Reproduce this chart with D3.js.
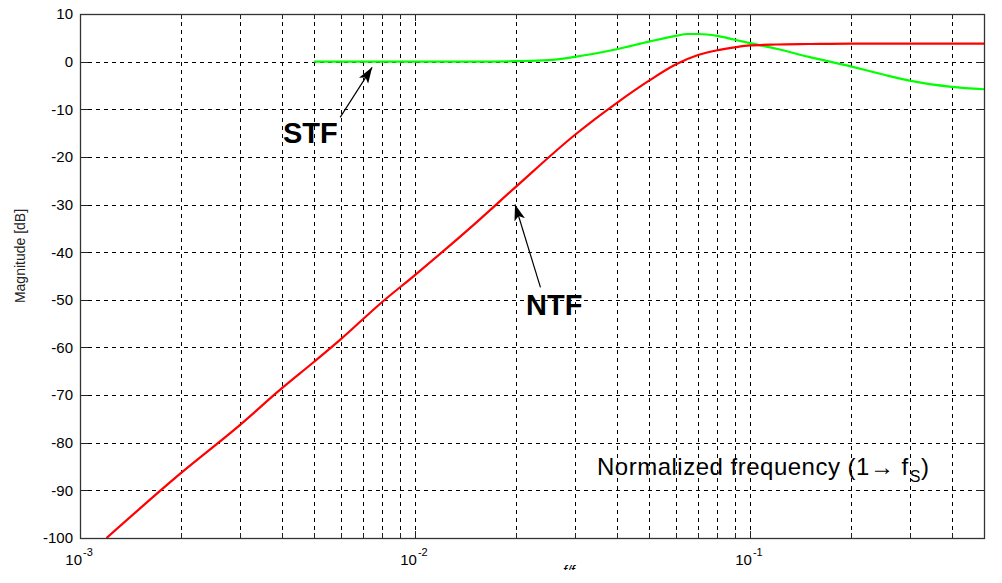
<!DOCTYPE html>
<html>
<head>
<meta charset="utf-8">
<script src="https://cdnjs.cloudflare.com/ajax/libs/d3/7.8.5/d3.min.js"></script>
<style>
  body { margin: 0; background: #fff; }
  svg { display: block; font-family: "Liberation Sans", Arial, sans-serif; }
</style>
</head>
<body>
<div id="chart"></div>
<script>
// NTF (red)
var ntfFreq = [0.0012, 0.002, 0.003, 0.004, 0.005, 0.006, 0.008, 0.01, 0.015, 0.02, 0.03, 0.04, 0.05, 0.06, 0.07, 0.08, 0.09, 0.1, 0.12, 0.15, 0.2, 0.3, 0.5];
var ntfDb   = [-100, -86.4, -76.3, -68.6, -63.0, -58.3, -50.4, -44.8, -34.2, -26.3, -15.4, -8.7, -4.0, -0.6, 1.4, 2.4, 3.0, 3.4, 3.6, 3.7, 3.8, 3.8, 3.8];

// STF (green)
var stfFreq = [0.005, 0.01, 0.015, 0.02, 0.025, 0.03, 0.04, 0.05, 0.06, 0.065, 0.07, 0.08, 0.09, 0.1, 0.12, 0.15, 0.2, 0.25, 0.3, 0.4, 0.5];
var stfDb   = [0, 0, 0, 0.1, 0.3, 1.0, 2.6, 4.2, 5.4, 5.8, 5.8, 5.4, 4.6, 3.9, 2.7, 1.0, -1.0, -2.7, -4.0, -5.3, -5.8];

var yTicks = [10, 0, -10, -20, -30, -40, -50, -60, -70, -80, -90, -100];
var xMajor = [0.001, 0.01, 0.1];
var xMajorExp = ["-3", "-2", "-1"];
var xMinor = [0.002, 0.003, 0.004, 0.005, 0.006, 0.007, 0.008, 0.009,
              0.02, 0.03, 0.04, 0.05, 0.06, 0.07, 0.08, 0.09,
              0.2, 0.3, 0.4];

// annotations: label position and arrow tip in data units
var notes = [
  { label: "STF", tx: 283, ty: 143, from: [0.00598, -11.7], to: [0.00745, -1.2] },
  { label: "NTF", tx: 526, ty: 315, from: [0.0237, -47.4], to: [0.0199, -30.0] }
];

var W = 1002, H = 583;
var margin = { top: 14, right: 18, bottom: 45, left: 80 },
    width = W - margin.left - margin.right,
    height = H - margin.top - margin.bottom;

var x = d3.scaleLog().domain([0.001, 0.5]).range([0, width]);
var y = d3.scaleLinear().domain([-100, 10]).range([height, 0]);

var svg = d3.select("#chart").append("svg")
    .attr("width", W)
    .attr("height", H);

var defs = svg.append("defs");
defs.append("clipPath").attr("id", "plotclip")
    .append("rect").attr("width", width).attr("height", height);
defs.append("clipPath").attr("id", "cutclip")
    .append("rect").attr("x", 0).attr("y", 0).attr("width", W).attr("height", 570);
defs.append("marker")
    .attr("id", "head")
    .attr("viewBox", "0 0 16 11")
    .attr("refX", 16).attr("refY", 5.5)
    .attr("markerWidth", 16).attr("markerHeight", 11)
    .attr("markerUnits", "userSpaceOnUse")
    .attr("orient", "auto")
    .append("path").attr("d", "M0,0L16,5.5L0,11L4,5.5Z").attr("fill", "#000");

var g = svg.append("g")
    .attr("transform", "translate(" + margin.left + "," + margin.top + ")");

// grid
var dash = "4,4";
g.selectAll(".vgrid")
    .data(xMajor.concat(xMinor))
    .enter().append("line")
    .attr("x1", function(d) { return Math.round(x(d)) + 0.5; })
    .attr("x2", function(d) { return Math.round(x(d)) + 0.5; })
    .attr("y1", 0).attr("y2", height)
    .attr("stroke", "#000").attr("stroke-width", 1)
    .attr("stroke-dasharray", dash);

g.selectAll(".hgrid")
    .data(yTicks)
    .enter().append("line")
    .attr("x1", 0).attr("x2", width)
    .attr("y1", function(d) { return Math.round(y(d)) + 0.5; })
    .attr("y2", function(d) { return Math.round(y(d)) + 0.5; })
    .attr("stroke", "#000").attr("stroke-width", 1)
    .attr("stroke-dasharray", dash);

// inward ticks
var ticks = g.append("g").attr("stroke", "#222").attr("stroke-width", 1);
xMajor.concat(xMinor).forEach(function(d) {
  var len = xMajor.indexOf(d) >= 0 ? 7 : 5;
  var px = Math.round(x(d)) + 0.5;
  ticks.append("line").attr("x1", px).attr("x2", px).attr("y1", height).attr("y2", height - len);
  ticks.append("line").attr("x1", px).attr("x2", px).attr("y1", 0).attr("y2", len);
});
yTicks.forEach(function(d) {
  var py = Math.round(y(d)) + 0.5;
  ticks.append("line").attr("x1", 0).attr("x2", 8).attr("y1", py).attr("y2", py);
  ticks.append("line").attr("x1", width).attr("x2", width - 8).attr("y1", py).attr("y2", py);
});

// curves
var line = d3.line()
    .x(function(d) { return x(d[0]); })
    .y(function(d) { return y(d[1]); })
    .curve(d3.curveMonotoneX);

var plot = g.append("g").attr("clip-path", "url(#plotclip)");
plot.append("path")
    .datum(stfFreq.map(function(f, i) { return [f, stfDb[i]]; }))
    .attr("d", line)
    .attr("fill", "none").attr("stroke", "#00ff00").attr("stroke-width", 2.2);
plot.append("path")
    .datum(ntfFreq.map(function(f, i) { return [f, ntfDb[i]]; }))
    .attr("d", line)
    .attr("fill", "none").attr("stroke", "#ff0000").attr("stroke-width", 2.2);

// box
g.append("rect")
    .attr("x", 0.5).attr("y", 0.5)
    .attr("width", width).attr("height", height)
    .attr("fill", "none").attr("stroke", "#333").attr("stroke-width", 1.3);

// y tick labels
g.selectAll(".ylab")
    .data(yTicks)
    .enter().append("text")
    .attr("x", -7)
    .attr("y", function(d) { return y(d); })
    .attr("dy", "0.36em")
    .attr("text-anchor", "end")
    .attr("font-size", 15)
    .attr("fill", "#000")
    .text(function(d) { return d; });

// x tick labels 10^n
var xl = g.selectAll(".xlab")
    .data(xMajor)
    .enter().append("g")
    .attr("transform", function(d) { return "translate(" + x(d) + "," + (height + 27) + ")"; });
xl.append("text")
    .attr("x", 2).attr("text-anchor", "end")
    .attr("font-size", 15).attr("fill", "#000")
    .text("10");
xl.append("text")
    .attr("x", 3).attr("y", -9)
    .attr("font-size", 11).attr("fill", "#000")
    .text(function(d, i) { return xMajorExp[i]; });

// axis titles
svg.append("text")
    .attr("transform", "translate(25,256)rotate(-90)")
    .attr("text-anchor", "middle")
    .attr("font-size", 14)
    .attr("fill", "#222")
    .text("Magnitude [dB]");

var xt = svg.append("text")
    .attr("clip-path", "url(#cutclip)")
    .attr("x", 563).attr("y", 576)
    .attr("font-size", 14).attr("font-style", "italic").attr("fill", "#000");
xt.append("tspan").text("f/f");
xt.append("tspan").attr("font-size", 10).attr("dy", 4).text("s");

var nf = g.append("text")
    .attr("x", 517).attr("y", 461)
    .attr("font-size", 24).attr("letter-spacing", 0.5).attr("fill", "#000");
nf.append("tspan").text("Normalized frequency (1\u2192 f");
nf.append("tspan").attr("font-size", 16).attr("dx", 1).attr("dy", 7).text("S");
nf.append("tspan").attr("dy", -7).text(")");

// annotations with arrows
notes.forEach(function(n) {
  g.append("line")
      .attr("x1", x(n.from[0])).attr("y1", y(n.from[1]))
      .attr("x2", x(n.to[0])).attr("y2", y(n.to[1]))
      .attr("stroke", "#000").attr("stroke-width", 1.2)
      .attr("marker-end", "url(#head)");
  svg.append("text")
      .attr("x", n.tx).attr("y", n.ty)
      .attr("font-size", 29).attr("font-weight", "bold").attr("fill", "#000")
      .text(n.label);
});
</script>
</body>
</html>
